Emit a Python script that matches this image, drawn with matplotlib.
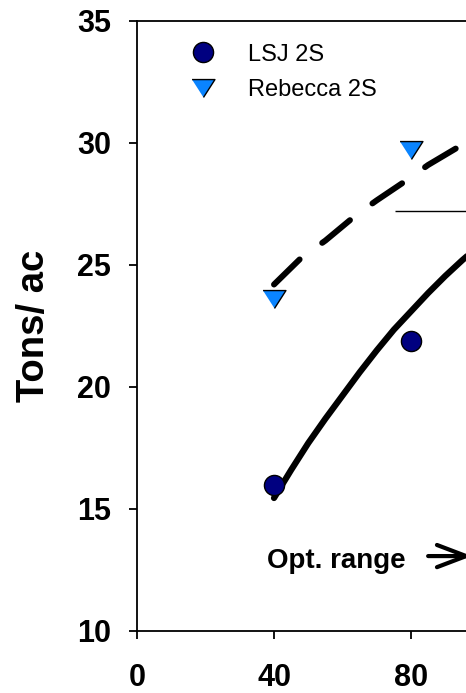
import matplotlib
matplotlib.use("Agg")
import matplotlib.pyplot as plt

# observed yields
rate = [40, 80]
lsj_2s = [16.0, 21.9]
rebecca_2s = [23.6, 29.7]

# fitted response curves
lsj_fit_x = [40, 45, 50, 55, 60, 65, 70, 75, 80, 85, 90, 95, 100]
lsj_fit_y = [15.45, 16.6, 17.7, 18.7, 19.65, 20.6, 21.5, 22.35, 23.1, 23.85, 24.55, 25.2, 25.8]
reb_fit_x = [40, 48, 55, 64, 70, 79, 85, 94, 100]
reb_fit_y = [24.2, 25.3, 26.0, 27.05, 27.65, 28.5, 29.1, 29.85, 30.25]

# optimum range marker
opt_y = 27.2
opt_x = (75.3, 120)

xticks = [0, 40, 80]
yticks = [10, 15, 20, 25, 30, 35]

plt.rcParams["font.family"] = ["Liberation Sans", "DejaVu Sans"]

fig = plt.figure(figsize=(4.66, 6.93), dpi=100)
# axes run off the right edge of the picture on purpose (cropped chart)
ax = fig.add_axes([0.294, 0.0895, 0.882, 0.8802])

ax.plot(lsj_fit_x, lsj_fit_y, color="black", lw=4.5, solid_capstyle="round",
        solid_joinstyle="round", zorder=2)
ax.plot(reb_fit_x, reb_fit_y, color="black", lw=4.3, linestyle=(0, (6, 4.7)),
        dash_capstyle="round", dash_joinstyle="round", zorder=2)
ax.hlines(opt_y, opt_x[0], opt_x[1], color="black", lw=1.0)

ax.plot(rate, lsj_2s, linestyle="none", marker="o", ms=14.5, mfc="#000080",
        mec="black", mew=1.0, label="LSJ 2S", zorder=3)
ax.plot(rate, rebecca_2s, linestyle="none", marker=[(-1, 0.78), (1, 0.78), (0, -0.78)],
        ms=16.5, mfc="#0a84ff", mec="black", mew=1.0, label="Rebecca 2S", zorder=3)

ax.text(38, 12.58, "Opt. range", fontsize=20, fontweight="bold", ha="left", va="baseline")
ax.annotate("", xy=(97.8, 13.07), xytext=(85.0, 13.07),
            arrowprops=dict(arrowstyle="->,head_length=1.05,head_width=0.4",
                            lw=3, color="black", mutation_scale=20,
                            shrinkA=0, shrinkB=0))

ax.set_xlim(0, 120)
ax.set_ylim(10, 35)
ax.set_xticks(xticks)
ax.set_yticks(yticks)
ax.tick_params(direction="out", length=5.8, width=1.3, labelsize=22)
ax.tick_params(axis="x", pad=17)
ax.tick_params(axis="y", pad=13)
for lab in ax.get_xticklabels() + ax.get_yticklabels():
    lab.set_fontweight("bold")
for s in ax.spines.values():
    s.set_linewidth(1.3)

ax.set_ylabel("Tons/ ac", fontsize=27.5, fontweight="bold")
ax.yaxis.set_label_coords(-0.207, 0.5)

ax.legend(loc="upper left", bbox_to_anchor=(0.092, 0.99), frameon=False,
          fontsize=17, numpoints=1, handlelength=1.0, handletextpad=1.4,
          labelspacing=0.58, borderaxespad=0.3)

fig.savefig("out.png", dpi=100)
